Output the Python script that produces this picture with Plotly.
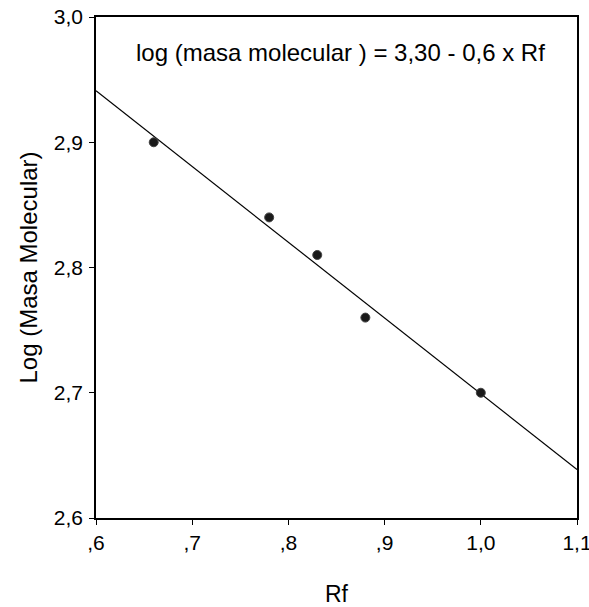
import numpy as np
import plotly.graph_objects as go

rf = [0.66, 0.78, 0.83, 0.88, 1.00]
log_mm = [2.90, 2.84, 2.81, 2.76, 2.70]
x_ticks = [0.6, 0.7, 0.8, 0.9, 1.0, 1.1]
x_labels = [",6", ",7", ",8", ",9", "1,0", "1,1"]
y_ticks = [2.6, 2.7, 2.8, 2.9, 3.0]
y_labels = ["2,6", "2,7", "2,8", "2,9", "3,0"]
equation = "log (masa molecular ) = 3,30 - 0,6 x Rf"

slope, intercept = np.polyfit(rf, log_mm, 1)
line_x = [0.6, 1.1]
line_y = [intercept + slope * v for v in line_x]

font = "Liberation Sans, Arial, sans-serif"
fig = go.Figure()
fig.add_trace(go.Scatter(x=line_x, y=line_y, mode="lines",
                         line=dict(color="black", width=1.2), showlegend=False))
fig.add_trace(go.Scatter(x=rf, y=log_mm, mode="markers",
                         marker=dict(symbol="circle", size=9, color="#1a1a1a",
                                     line=dict(color="#444", width=1)),
                         showlegend=False))
fig.add_annotation(x=0.509, xref="paper", y=0.930, yref="paper", text=equation,
                   showarrow=False, xanchor="center", yanchor="middle",
                   font=dict(family=font, size=24, color="black"))

fig.update_layout(
    width=589, height=607,
    margin=dict(l=96, r=12, t=17, b=89),
    plot_bgcolor="white", paper_bgcolor="white",
    font=dict(family=font, size=18, color="black"),
)
fig.update_xaxes(range=[0.6, 1.1], tickvals=x_ticks, ticktext=x_labels, automargin=False,
                 ticklabeloverflow="allow", tickfont=dict(family=font, size=21, color="black"),
                 ticks="outside", ticklen=5, tickcolor="black", showgrid=False, zeroline=False,
                 showline=True, linecolor="black", linewidth=1.5, mirror=True,
                 title=dict(text="Rf", font=dict(size=23), standoff=40))
fig.update_yaxes(range=[2.6, 3.0], tickvals=y_ticks, ticktext=y_labels, automargin=False,
                 ticklabeloverflow="allow", tickfont=dict(family=font, size=21, color="black"),
                 ticklabelstandoff=2,
                 ticks="outside", ticklen=5, tickcolor="black", showgrid=False, zeroline=False,
                 showline=True, linecolor="black", linewidth=1.5, mirror=True,
                 title=dict(text="Log (Masa Molecular)", font=dict(size=24), standoff=9))
fig.write_html("out.html")
